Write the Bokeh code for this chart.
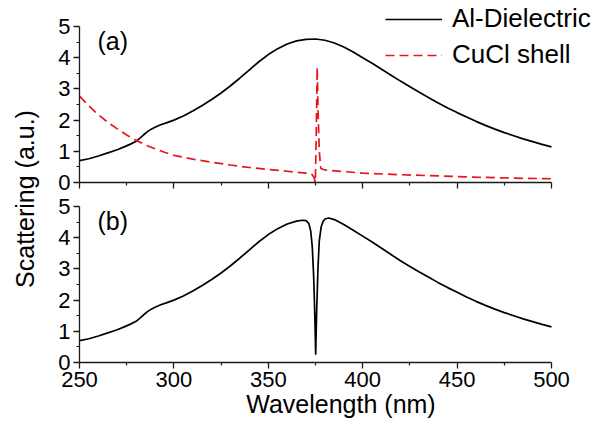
from bokeh.plotting import figure
from bokeh.models import (Range1d, FixedTicker, Legend, LegendItem, Label, Div)
from bokeh.layouts import row, column
from bokeh.embed import file_html
from bokeh.resources import INLINE

# ---------------- data ----------------
wavelength_a = [250, 255, 260, 265, 270, 274, 277, 280, 282, 284, 286, 288, 290, 293, 296,
                300, 305, 310, 315, 320, 325, 330, 335, 340, 345, 350, 355, 360, 365, 370,
                375, 380, 385, 390, 395, 400, 405, 410, 415, 420, 425, 430, 435, 440, 445,
                450, 455, 460, 465, 470, 475, 480, 485, 490, 495, 500]
al_dielectric_a = [0.70, 0.76, 0.85, 0.95, 1.05, 1.15, 1.23, 1.32, 1.42, 1.53, 1.63, 1.71,
                   1.77, 1.85, 1.91, 2.00, 2.13, 2.29, 2.47, 2.66, 2.87, 3.10, 3.35, 3.61,
                   3.87, 4.10, 4.29, 4.44, 4.54, 4.59, 4.60, 4.56, 4.47, 4.34, 4.18, 4.00,
                   3.82, 3.63, 3.44, 3.25, 3.07, 2.89, 2.72, 2.55, 2.39, 2.24, 2.10, 1.96,
                   1.83, 1.71, 1.60, 1.50, 1.40, 1.31, 1.22, 1.14]

wavelength_cucl = [250, 255, 260, 265, 270, 275, 280, 285, 290, 295, 300, 310, 320, 330,
                   340, 350, 360, 370, 373, 374.3, 374.9, 375.4, 375.9, 376.4, 377.0,
                   377.8, 380, 390, 400, 420, 440, 460, 480, 500]
cucl_shell = [2.77, 2.45, 2.17, 1.93, 1.72, 1.52, 1.35, 1.20, 1.08, 0.97, 0.87, 0.75,
              0.65, 0.56, 0.48, 0.42, 0.36, 0.30, 0.27, 0.15, 0.0, 1.6, 3.7, 2.2, 1.0,
              0.45, 0.40, 0.35, 0.30, 0.25, 0.21, 0.17, 0.14, 0.12]

wavelength_b = [250, 255, 260, 265, 270, 274, 277, 280, 282, 284, 286, 288, 290, 293, 296,
                300, 305, 310, 315, 320, 325, 330, 335, 340, 345, 350, 355, 360, 365, 368,
                370, 371.5, 372.5, 373.3, 374.0, 374.6, 375.1, 375.6, 376.3, 377.0, 378.0,
                379.0, 380, 382, 385, 390, 395, 400, 405, 410, 415, 420, 425, 430, 435,
                440, 445, 450, 455, 460, 465, 470, 475, 480, 485, 490, 495, 500]
al_cucl_b = [0.70, 0.76, 0.85, 0.95, 1.05, 1.15, 1.23, 1.32, 1.42, 1.53, 1.63, 1.71,
             1.77, 1.85, 1.91, 2.00, 2.13, 2.29, 2.47, 2.66, 2.87, 3.10, 3.35, 3.61,
             3.87, 4.10, 4.29, 4.44, 4.53, 4.56, 4.55, 4.45, 4.20, 3.70, 2.80, 1.60,
             0.25, 1.60, 3.00, 3.90, 4.35, 4.52, 4.60, 4.63, 4.58, 4.42, 4.24, 4.05,
             3.86, 3.66, 3.46, 3.26, 3.08, 2.90, 2.73, 2.56, 2.40, 2.25, 2.10, 1.96,
             1.83, 1.71, 1.60, 1.50, 1.40, 1.31, 1.22, 1.14]

x_ticks = [250, 300, 350, 400, 450, 500]
x_minor = [275, 325, 375, 425, 475]
y_ticks = [0, 1, 2, 3, 4, 5]
y_minor = [0.5, 1.5, 2.5, 3.5, 4.5]
x_bounds = (250, 500)
y_bounds = (0, 5)
legend_labels = ["Al-Dielectric", "CuCl shell"]
panel_labels = ["(a)", "(b)"]

FONT = "Liberation Sans"
AX = "#1a1a1a"

# geometry (pixels)
W = 568
LEFT = 39
RIGHT = 6
FRAME_W = W - LEFT - RIGHT          # frame extends past 500 to leave room for legend
PX_X = 472 / 250.0                  # pixels per nm (250..500 spans 472 px)
PX_Y = 156 / 5.0                    # pixels per y unit
X_END = 250 + FRAME_W / PX_X
TOP_FRAME_H = 180
TOP_T, TOP_B = 2, 12
BOT_T, BOT_B = 12, 62


def style(p, show_x_labels):
    p.outline_line_color = None
    p.xgrid.visible = False
    p.ygrid.visible = False
    p.background_fill_color = "white"
    p.border_fill_color = "white"
    p.xaxis.ticker = FixedTicker(ticks=x_ticks, minor_ticks=x_minor)
    p.yaxis.ticker = FixedTicker(ticks=y_ticks, minor_ticks=y_minor)
    p.xaxis.bounds = x_bounds
    p.yaxis.bounds = y_bounds
    for ax in (p.xaxis[0], p.yaxis[0]):
        ax.axis_line_color = AX
        ax.axis_line_width = 1.3
        ax.major_tick_line_color = AX
        ax.minor_tick_line_color = AX
        ax.major_tick_line_width = 1.3
        ax.minor_tick_line_width = 1.2
        ax.major_tick_out = 6
        ax.major_tick_in = 0
        ax.minor_tick_out = 3
        ax.minor_tick_in = 0
        ax.major_label_text_font = FONT
        ax.major_label_text_font_size = "22px"
        ax.major_label_text_color = "black"
        ax.axis_label_text_font = FONT
        ax.axis_label_text_font_size = "25px"
        ax.axis_label_text_font_style = "normal"
        ax.axis_label_text_color = "black"
    p.yaxis.major_label_standoff = 3
    p.xaxis.major_label_standoff = 3
    if not show_x_labels:
        p.xaxis.major_label_text_font_size = "0px"
        p.xaxis.major_label_text_color = None
        p.xaxis.major_label_standoff = 0


p1 = figure(width=W, height=TOP_T + TOP_FRAME_H + TOP_B, output_backend="svg",
            toolbar_location=None,
            x_range=Range1d(250, X_END),
            y_range=Range1d(0, TOP_FRAME_H / PX_Y),
            min_border_left=LEFT, min_border_right=RIGHT, min_border_top=TOP_T,
            min_border_bottom=TOP_B)
style(p1, False)
r_al = p1.line(wavelength_a, al_dielectric_a, line_color="black", line_width=1.7)
r_cu = p1.line(wavelength_cucl, cucl_shell, line_color="#e8141c", line_width=1.7,
               line_dash="9 5")
legend = Legend(items=[LegendItem(label=legend_labels[0], renderers=[r_al]),
                       LegendItem(label=legend_labels[1], renderers=[r_cu])],
                location=(306, 112), padding=0, margin=0, spacing=5,
                border_line_alpha=0, background_fill_alpha=0,
                glyph_width=57, glyph_height=28, label_height=28,
                label_standoff=10, label_text_font=FONT,
                label_text_font_size="26px", label_text_color="black")
p1.add_layout(legend)
p1.add_layout(Label(x=259.5, y=4.97, text=panel_labels[0], text_font=FONT,
                    text_font_size="25px", text_baseline="top", text_color="black"))

p2 = figure(width=W, height=BOT_T + 156 + BOT_B, output_backend="svg",
            toolbar_location=None,
            x_range=p1.x_range, y_range=Range1d(0, 5),
            min_border_left=LEFT, min_border_right=RIGHT,
            min_border_top=BOT_T, min_border_bottom=BOT_B)
style(p2, True)
p2.xaxis.axis_label = "Wavelength (nm)"
p2.xaxis.axis_label_standoff = 0
p2.line(wavelength_b, al_cucl_b, line_color="black", line_width=1.7)
p2.add_layout(Label(x=259.5, y=4.97, text=panel_labels[1], text_font=FONT,
                    text_font_size="25px", text_baseline="top", text_color="black"))

total_h = TOP_T + TOP_FRAME_H + TOP_B + BOT_T + 156 + BOT_B
ylabel = Div(text=('<div style="position:absolute;left:20px;top:194px;'
                   'writing-mode:vertical-rl;'
                   'transform:translate(-50%,-50%) rotate(180deg);white-space:nowrap;'
                   "font-family:'Liberation Sans';"
                   'font-size:25px;line-height:28px;'
                   'color:black;">Scattering (a.u.)</div>'),
             width=30, height=total_h, styles={"position": "relative"})

layout = row(ylabel, column(p1, p2))
open("out.html", "w").write(file_html(layout, INLINE))
